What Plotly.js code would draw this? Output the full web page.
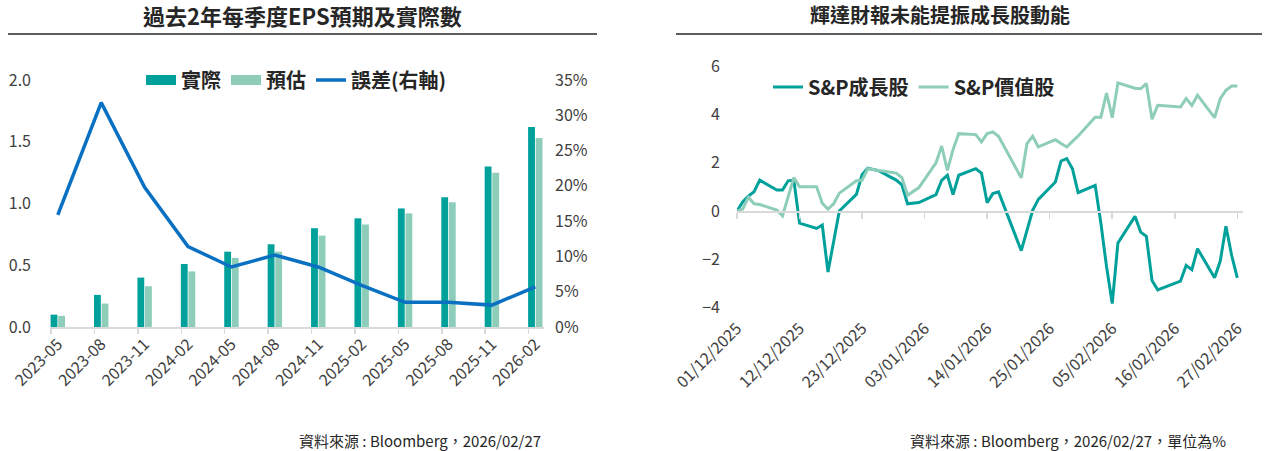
<!DOCTYPE html>
<html>
<head>
<meta charset="utf-8">
<script src="https://cdn.plot.ly/plotly-3.0.1.min.js"></script>
<style>
  html, body { margin: 0; padding: 0; background: #fff; }
  #chart { width: 1267px; height: 451px; }
</style>
</head>
<body>
<div id="chart"></div>
<script>
// left: quarterly EPS
let quarters = ['2023-05', '2023-08', '2023-11', '2024-02', '2024-05', '2024-08',
                '2024-11', '2025-02', '2025-05', '2025-08', '2025-11', '2026-02']
let epsActual = [0.10, 0.26, 0.40, 0.51, 0.61, 0.67, 0.80, 0.88, 0.96, 1.05, 1.30, 1.62]
let epsEstimate = [0.09, 0.19, 0.33, 0.45, 0.56, 0.61, 0.74, 0.83, 0.92, 1.01, 1.25, 1.53]
let epsError = [0.159, 0.318, 0.198, 0.114, 0.085, 0.102, 0.085, 0.059, 0.035, 0.035, 0.031, 0.057]

// right: growth vs value, % since 01/12/2025
let days = [
  '2025-12-01', '2025-12-02', '2025-12-03', '2025-12-04', '2025-12-05',
  '2025-12-08', '2025-12-09', '2025-12-10', '2025-12-11', '2025-12-12',
  '2025-12-15', '2025-12-16', '2025-12-17', '2025-12-18', '2025-12-19',
  '2025-12-22', '2025-12-23', '2025-12-24', '2025-12-26',
  '2025-12-29', '2025-12-30', '2025-12-31', '2026-01-02',
  '2026-01-05', '2026-01-06', '2026-01-07', '2026-01-08', '2026-01-09',
  '2026-01-12', '2026-01-13', '2026-01-14', '2026-01-15', '2026-01-16',
  '2026-01-20', '2026-01-21', '2026-01-22', '2026-01-23',
  '2026-01-26', '2026-01-27', '2026-01-28', '2026-01-29', '2026-01-30',
  '2026-02-02', '2026-02-03', '2026-02-04', '2026-02-05', '2026-02-06',
  '2026-02-09', '2026-02-10', '2026-02-11', '2026-02-12', '2026-02-13',
  '2026-02-17', '2026-02-18', '2026-02-19', '2026-02-20',
  '2026-02-23', '2026-02-24', '2026-02-25', '2026-02-26', '2026-02-27']
let growth = [
  0, 0.38, 0.62, 0.80, 1.28,
  0.87, 0.87, 1.25, 1.28, -0.50,
  -0.72, -0.58, -2.52, -1.20, 0.00,
  0.69, 1.50, 1.77, 1.66,
  1.28, 1.08, 0.30, 0.35,
  0.68, 1.27, 1.48, 0.68, 1.48,
  1.75, 1.57, 0.34, 0.72, 0.79,
  -1.64, -0.80, 0.03, 0.48,
  1.20, 2.07, 2.17, 1.75, 0.76,
  1.06, -0.50, -2.30, -3.83, -1.32,
  -0.22, -0.87, -1.05, -2.87, -3.26,
  -2.90, -2.25, -2.43, -1.56,
  -2.76, -2.07, -0.63, -1.83, -2.76]
let value = [
  0, 0.08, 0.57, 0.30, 0.27,
  0.04, -0.20, 0.56, 1.38, 1.00,
  1.00, 0.32, 0.08, 0.30, 0.74,
  1.25, 1.27, 1.75, 1.68,
  1.57, 1.38, 0.65, 0.97,
  1.99, 2.69, 1.68, 2.54, 3.20,
  3.16, 2.86, 3.20, 3.27, 3.09,
  1.37, 2.79, 3.09, 2.65,
  2.95, 2.79, 2.65, 2.88, 3.10,
  3.88, 3.88, 4.88, 3.86, 5.30,
  5.08, 5.06, 5.27, 3.80, 4.37,
  4.30, 4.65, 4.37, 4.79,
  3.86, 4.65, 4.99, 5.17, 5.17]

const W = 1267, H = 451
const font = 'Noto Sans CJK TC, Noto Sans, sans-serif'
const dark = '#00a19b'
const light = '#8dcdb9'
const blue = '#0a70c2'
const grid = '#d9d9d9'
const idx = quarters.map((q, i) => i)

let px = x => x / W
let py = y => (H - y) / H

let traces = [
  {x: idx, y: epsActual, type: 'bar', name: '實際', marker: {color: dark},
   xaxis: 'x', yaxis: 'y', showlegend: false, hoverinfo: 'skip'},
  {x: idx, y: epsEstimate, type: 'bar', name: '預估', marker: {color: light},
   xaxis: 'x', yaxis: 'y', showlegend: false, hoverinfo: 'skip'},
  // wide legend swatches like the original (bar legend icons are tiny squares)
  {x: [null], y: [null], type: 'scatter', mode: 'lines', name: '實際',
   line: {color: dark, width: 12}, xaxis: 'x', yaxis: 'y', legend: 'legend'},
  {x: [null], y: [null], type: 'scatter', mode: 'lines', name: '預估',
   line: {color: light, width: 12}, xaxis: 'x', yaxis: 'y', legend: 'legend'},
  {x: idx, y: epsError, type: 'scatter', mode: 'lines', name: '誤差(右軸)',
   line: {color: blue, width: 3.5}, xaxis: 'x', yaxis: 'y2', legend: 'legend'},
  // holds the tick-mark axis of the left chart
  {x: [0], y: [0], mode: 'none', type: 'scatter', xaxis: 'x2', yaxis: 'y',
   showlegend: false, hoverinfo: 'skip'},
  {x: days, y: growth, type: 'scatter', mode: 'lines', name: 'S&P成長股',
   line: {color: dark, width: 3}, xaxis: 'x3', yaxis: 'y3', legend: 'legend2'},
  {x: days, y: value, type: 'scatter', mode: 'lines', name: 'S&P價值股',
   line: {color: light, width: 3}, xaxis: 'x3', yaxis: 'y3', legend: 'legend2'},
  // zero line with tick marks of the right chart
  {x: [days[0]], y: [0], mode: 'none', type: 'scatter', xaxis: 'x4', yaxis: 'y3',
   showlegend: false, hoverinfo: 'skip'}
]

let tickFont = {family: font, size: 16, color: '#404040'}
let legendFont = {family: font, size: 20, color: '#262626', weight: 'bold'}
let xRangeL = [-0.18, 11.2]
let dayMs = 86400000

var layout = {
  width: W, height: H,
  margin: {l: 0, r: 0, t: 0, b: 0},
  paper_bgcolor: '#fff', plot_bgcolor: 'rgba(0,0,0,0)',
  font: {family: font, color: '#262626'},
  barmode: 'group', bargap: 0.65, bargroupgap: 0.1,
  showlegend: true,
  xaxis: {
    domain: [px(50), px(544)], range: xRangeL, anchor: 'y',
    tickvals: idx, ticktext: quarters, tickangle: -45, tickfont: tickFont,
    showline: true, linecolor: grid, linewidth: 1.5, ticks: '', showgrid: false,
    zeroline: false, fixedrange: true
  },
  xaxis2: {
    overlaying: 'x', anchor: 'y', range: xRangeL,
    tickvals: idx.map(i => i - 0.155), ticks: 'outside', ticklen: 6,
    tickcolor: grid, tickwidth: 1.5, showticklabels: false, showline: false,
    showgrid: false, zeroline: false
  },
  yaxis: {
    domain: [py(327), py(80)], range: [0, 2], dtick: 0.5, tickformat: '.1f',
    anchor: 'x', tickfont: tickFont, showgrid: false, zeroline: false,
    showline: false, ticklabelstandoff: 18
  },
  yaxis2: {
    overlaying: 'y', side: 'right', anchor: 'x', range: [0, 0.35], dtick: 0.05,
    tickformat: '.0%', tickfont: tickFont, showgrid: false, zeroline: false,
    showline: false, ticklabelstandoff: 10
  },
  xaxis3: {
    domain: [px(737), px(1243)], type: 'date', anchor: 'y3',
    range: ['2025-12-01', '2026-02-28'], tick0: '2025-12-01', dtick: 11 * dayMs,
    tickformat: '%d/%m/%Y', tickangle: -45, tickfont: tickFont,
    showline: false, ticks: '', showgrid: false, zeroline: false
  },
  xaxis4: {
    overlaying: 'x3', type: 'date', anchor: 'free', position: py(211),
    range: ['2025-12-01', '2026-02-28'], tick0: '2025-12-01', dtick: 11 * dayMs,
    ticks: 'outside', ticklen: 6, tickcolor: grid, tickwidth: 1.5,
    showline: true, linecolor: grid, linewidth: 1.5,
    showticklabels: false, showgrid: false, zeroline: false
  },
  yaxis3: {
    domain: [py(315), py(58.7)], range: [-4.3, 6.3], dtick: 2, anchor: 'x3',
    tickfont: tickFont, showgrid: false, zeroline: false, showline: false,
    ticklabelstandoff: 16
  },
  legend: {
    orientation: 'h', x: px(141), y: py(80), xanchor: 'left', yanchor: 'middle',
    font: legendFont, bgcolor: 'rgba(0,0,0,0)', traceorder: 'normal', itemwidth: 30
  },
  legend2: {
    orientation: 'h', x: px(768), y: py(87), xanchor: 'left', yanchor: 'middle',
    font: legendFont, bgcolor: 'rgba(0,0,0,0)', traceorder: 'normal', itemwidth: 30
  },
  shapes: [
    {type: 'line', xref: 'paper', yref: 'paper', x0: px(8), x1: px(597),
     y0: py(34), y1: py(34), line: {color: '#262626', width: 1.5}},
    {type: 'line', xref: 'paper', yref: 'paper', x0: px(676), x1: px(1262),
     y0: py(34), y1: py(34), line: {color: '#262626', width: 1.5}}
  ],
  annotations: [
    {text: '<b>過去2年每季度EPS預期及實際數</b>', xref: 'paper', yref: 'paper',
     x: px(302), y: py(15), xanchor: 'center', yanchor: 'middle', showarrow: false,
     font: {family: font, size: 22, color: '#262626'}},
    {text: '<b>輝達財報未能提振成長股動能</b>', xref: 'paper', yref: 'paper',
     x: px(940), y: py(15), xanchor: 'center', yanchor: 'middle', showarrow: false,
     font: {family: font, size: 20, color: '#262626'}},
    {text: '資料來源 : Bloomberg，2026/02/27', xref: 'paper', yref: 'paper',
     x: px(543), y: py(440), xanchor: 'right', yanchor: 'middle', showarrow: false,
     font: {family: font, size: 15, color: '#262626'}},
    {text: '資料來源 : Bloomberg，2026/02/27，單位為%', xref: 'paper', yref: 'paper',
     x: px(1228), y: py(440), xanchor: 'right', yanchor: 'middle', showarrow: false,
     font: {family: font, size: 15, color: '#262626'}}
  ]
}

Plotly.newPlot('chart', traces, layout, {displayModeBar: false, staticPlot: true})
</script>
</body>
</html>
